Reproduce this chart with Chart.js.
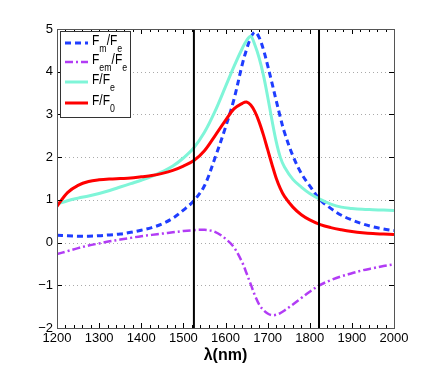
<!DOCTYPE html>
<html>
<head>
<meta charset="utf-8">
<script src="https://cdn.jsdelivr.net/npm/chart.js@4"></script>
<style>
  html, body { margin: 0; padding: 0; background: #fff; }
  #wrap { width: 436px; height: 370px; }
</style>
</head>
<body>
<div id="wrap"><canvas id="chart" width="436" height="370"></canvas></div>
<script>
// wavelengths (nm)
const lambda = [1200, 1225, 1250, 1275, 1300, 1325, 1350, 1375, 1400, 1425, 1450, 1475, 1500, 1525,
  1550, 1575, 1600, 1620, 1640, 1650, 1660, 1670, 1680, 1690, 1700, 1710, 1720, 1730, 1740, 1760, 1780,
  1800, 1825, 1850, 1875, 1900, 1925, 1950, 1975, 2000];

// Fm/Fe
const fmFe = [0.17, 0.16, 0.15, 0.15, 0.16, 0.18, 0.20, 0.24, 0.29, 0.35, 0.44, 0.57, 0.76, 0.98,
  1.33, 1.98, 2.70, 3.35, 4.18, 4.52, 4.80, 4.93, 4.80, 4.52, 4.15, 3.75, 3.34, 2.94, 2.58, 2.03, 1.62,
  1.33, 1.00, 0.80, 0.64, 0.53, 0.44, 0.37, 0.32, 0.28];

// Fem/Fe
const femFe = [-0.27, -0.20, -0.13, -0.07, -0.02, 0.03, 0.07, 0.11, 0.15, 0.18, 0.21, 0.24, 0.27, 0.29,
  0.30, 0.25, 0.09, -0.11, -0.47, -0.72, -0.98, -1.24, -1.45, -1.58, -1.66, -1.70, -1.69, -1.65, -1.59, -1.45, -1.30,
  -1.15, -0.99, -0.88, -0.79, -0.72, -0.65, -0.60, -0.55, -0.51];

// F/Fe
const fFe = [0.90, 0.98, 1.04, 1.09, 1.15, 1.22, 1.30, 1.38, 1.46, 1.55, 1.66, 1.79, 1.98, 2.22,
  2.58, 3.07, 3.65, 4.12, 4.55, 4.73, 4.83, 4.62, 4.32, 3.92, 3.42, 2.88, 2.38, 2.00, 1.77, 1.48, 1.30,
  1.15, 1.01, 0.90, 0.83, 0.80, 0.78, 0.77, 0.76, 0.75];

// F/F0
const fF0 = [0.85, 1.17, 1.34, 1.43, 1.47, 1.49, 1.50, 1.51, 1.54, 1.57, 1.62, 1.69, 1.79, 1.92,
  2.15, 2.50, 2.86, 3.13, 3.26, 3.29, 3.22, 3.06, 2.82, 2.52, 2.18, 1.84, 1.52, 1.27, 1.08, 0.83, 0.65,
  0.53, 0.42, 0.35, 0.30, 0.26, 0.23, 0.21, 0.20, 0.19];

// vertical markers
const markers = [1525, 1822];

const xTicks = [1200, 1300, 1400, 1500, 1600, 1700, 1800, 1900, 2000];
const yTicks = [-2, -1, 0, 1, 2, 3, 4, 5];

const FONT = "'Liberation Sans', Arial, sans-serif";

const toXY = (ys) => lambda.map((x, i) => ({ x: x, y: ys[i] }));

const legendItems = [
  { parts: [["F", 0], ["m", 1], ["/F", 0], ["e", 1]], color: "#1f3dff", width: 3, dash: [6, 4] },
  { parts: [["F", 0], ["em", 1], ["/F", 0], ["e", 1]], color: "#b23cf5", width: 2.5, dash: [8, 3, 2, 3] },
  { parts: [["F/F", 0], ["e", 1]], color: "#7ff5d8", width: 3, dash: [] },
  { parts: [["F/F", 0], ["0", 1]], color: "#ff0000", width: 3, dash: [] }
];

const markerSets = markers.map((m) => ({
  data: [{ x: m, y: -2 }, { x: m, y: 5 }],
  borderColor: "#000",
  borderWidth: 2,
  pointRadius: 0,
  tension: 0,
  order: 0
}));

// dotted horizontal grid
const dottedGrid = {
  id: "dottedGrid",
  beforeDatasetsDraw(chart) {
    const { ctx, chartArea: a, scales } = chart;
    ctx.save();
    ctx.strokeStyle = "#aaa";
    ctx.lineWidth = 1;
    ctx.setLineDash([1, 3]);
    ctx.beginPath();
    yTicks.slice(1, -1).forEach((v) => {
      const py = Math.round(scales.y.getPixelForValue(v)) + 0.5;
      ctx.moveTo(a.left, py); ctx.lineTo(a.right, py);
    });
    ctx.stroke();
    ctx.restore();
  }
};

// box, inward ticks and legend
const matlabAxes = {
  id: "matlabAxes",
  afterDraw(chart) {
    const { ctx, chartArea: a, scales } = chart;
    const xs = scales.x, ys = scales.y;
    ctx.save();
    ctx.strokeStyle = "#000";
    ctx.lineWidth = 1;
    ctx.setLineDash([]);
    ctx.beginPath();
    for (let v = 1200; v <= 2000; v += 20) {
      const px = Math.round(xs.getPixelForValue(v)) + 0.5;
      const len = v % 100 === 0 ? 5 : 3;
      ctx.moveTo(px, a.bottom); ctx.lineTo(px, a.bottom - len);
      ctx.moveTo(px, a.top); ctx.lineTo(px, a.top + len);
    }
    yTicks.forEach((v) => {
      const py = Math.round(ys.getPixelForValue(v)) + 0.5;
      ctx.moveTo(a.left, py); ctx.lineTo(a.left + 5, py);
      ctx.moveTo(a.right, py); ctx.lineTo(a.right - 5, py);
    });
    ctx.stroke();
    ctx.strokeStyle = "#555";
    ctx.strokeRect(Math.round(a.left) + 0.5, Math.round(a.top) + 0.5,
      Math.round(a.right - a.left), Math.round(a.bottom - a.top));

    // legend
    const bx = 60.5, by = 31.5, bw = 70, bh = 86;
    ctx.fillStyle = "#fff";
    ctx.fillRect(bx, by, bw, bh);
    ctx.strokeStyle = "#333";
    ctx.strokeRect(bx, by, bw, bh);
    const rows = [43, 62, 82, 103];
    legendItems.forEach((it, i) => {
      const y = rows[i];
      ctx.strokeStyle = it.color;
      ctx.lineWidth = it.width;
      ctx.setLineDash(it.dash);
      ctx.beginPath();
      ctx.moveTo(65, y); ctx.lineTo(88, y);
      ctx.stroke();
      ctx.setLineDash([]);
      ctx.fillStyle = "#000";
      ctx.textBaseline = "alphabetic";
      let tx = 92;
      it.parts.forEach(([s, sub]) => {
        ctx.font = (sub ? "11px " : "15px ") + FONT;
        const w = ctx.measureText(s).width * 0.8;
        ctx.save();
        ctx.translate(tx, sub ? y + 9 : y + 2);
        ctx.scale(0.8, 1);
        ctx.fillText(s, 0, 0);
        ctx.restore();
        tx += w;
      });
    });
    ctx.restore();
  }
};

new Chart(document.getElementById("chart"), {
  type: "line",
  data: {
    datasets: [
      ...markerSets,
      { label: "F/F0", data: toXY(fF0), borderColor: "#ff0000", borderWidth: 3, order: 1 },
      { label: "F/Fe", data: toXY(fFe), borderColor: "#7ff5d8", borderWidth: 3, order: 2 },
      { label: "Fem/Fe", data: toXY(femFe), borderColor: "#b23cf5", borderWidth: 2.5, borderDash: [8, 3, 2, 3], order: 3 },
      { label: "Fm/Fe", data: toXY(fmFe), borderColor: "#1f3dff", borderWidth: 3, borderDash: [6, 4], order: 4 }
    ]
  },
  options: {
    responsive: false,
    animation: false,
    devicePixelRatio: 1,
    layout: { padding: { top: 29, right: 42, left: 0, bottom: 0 } },
    elements: {
      point: { radius: 0 },
      line: { tension: 0.35, fill: false }
    },
    plugins: { legend: { display: false }, tooltip: { enabled: false } },
    scales: {
      x: {
        type: "linear",
        min: 1200,
        max: 2000,
        afterFit: (s) => { s.height = 42; },
        afterBuildTicks: (s) => { s.ticks = xTicks.map((v) => ({ value: v })); },
        grid: { display: false, drawTicks: false },
        border: { display: false },
        ticks: {
          color: "#000",
          font: { family: FONT, size: 13 },
          padding: 3,
          maxRotation: 0,
          callback: (v) => String(v)
        },
        title: {
          display: true,
          text: "λ(nm)",
          color: "#000",
          font: { family: FONT, size: 16, weight: "bold" },
          padding: { top: 0, bottom: 5 }
        }
      },
      y: {
        min: -2,
        max: 5,
        afterFit: (s) => { s.width = 57; },
        afterBuildTicks: (s) => { s.ticks = yTicks.map((v) => ({ value: v })); },
        grid: { display: false, drawTicks: false },
        border: { display: false },
        ticks: {
          color: "#000",
          font: { family: FONT, size: 13 },
          padding: 4,
          callback: (v) => String(v).replace("-", "\u2212")
        }
      }
    }
  },
  plugins: [dottedGrid, matlabAxes]
});
</script>
</body>
</html>
